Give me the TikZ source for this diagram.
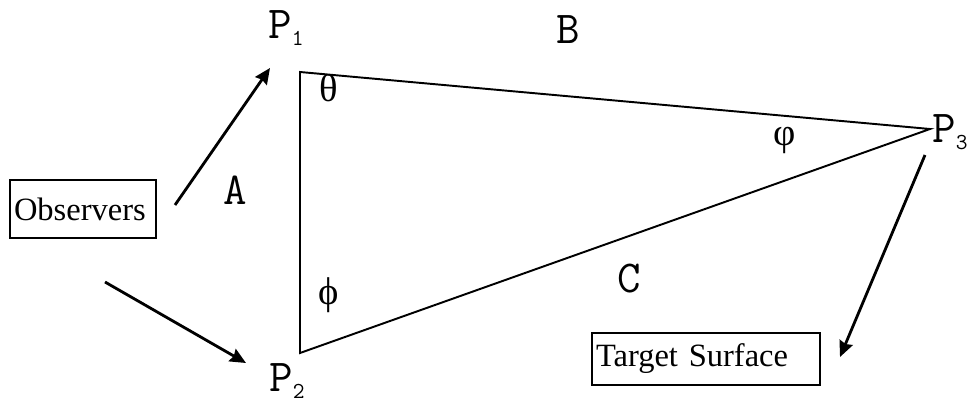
\documentclass[tikz,border=0pt]{standalone}
\usepackage{fontspec}
\setmainfont{Liberation Serif}
\usepackage{tikz}
\usetikzlibrary{arrows.meta,positioning}
\newcommand{\psub}[1]{P\raisebox{-4pt}{\fontsize{13}{13}\selectfont#1}}
\tikzset{
  % Boxes
  BX/.style={rectangle,draw,line width=1.3pt,inner sep=2pt,
             align=left,font=\fontsize{18.5}{20}\selectfont},
  % Courier labels
  LB/.style={font=\ttfamily\fontsize{26}{28}\selectfont,inner sep=0pt},
  % Angle labels
  GK/.style={font=\fontsize{22}{24}\selectfont,inner sep=0pt},
  % Lines
  side/.style={line width=1.1pt},
  arr/.style={-{Stealth[length=9pt,width=8pt,inset=1pt]},line width=1.6pt}
}
\begin{document}
\begin{tikzpicture}[x=0.02cm,y=-0.02cm]
  \useasboundingbox (0,0) rectangle (969,402);
  % triangle corners
  \coordinate (P1) at (300,72);
  \coordinate (P2) at (300,353);
  \coordinate (P3) at (930,129);
  \draw[side] (P3) -- (P1) -- (P2) -- cycle;

  % boxes
  \node[BX,minimum width=146*0.02cm,minimum height=58*0.02cm,text width=138*0.02cm] (obs) at (83,209) {Observers};
  \node[BX,minimum width=228*0.02cm,minimum height=52*0.02cm,text width=220*0.02cm] (tgt) at (706,359) {Target Surface};

  % labels
  \node[LB] (lP1) at (286,28)  {\psub{1}};
  \node[LB] (lP2) at (287,381) {\psub{2}};
  \node[LB] (lP3) at (950,132) {\psub{3}};
  \node[LB] (lA) at (235,190) {A};
  \node[LB] (lB) at (568,30)  {B};
  \node[LB] (lC) at (629,279) {C};
  \node[GK] (th) at (329,88)  {θ};
  \node[GK] (vp) at (785,140) {φ};
  \node[GK] (ph) at (329,295) {ϕ};

  % arrow ends
  \coordinate (o1) at (175,205);
  \coordinate (t1) at (270,68);
  \coordinate (o2) at (105,282);
  \coordinate (t2) at (246,363);
  \coordinate (o3) at (925,155);
  \coordinate (t3) at (840,357);
  \draw[arr] (o1) -- (t1);
  \draw[arr] (o2) -- (t2);
  \draw[arr] (o3) -- (t3);
\end{tikzpicture}
\end{document}
